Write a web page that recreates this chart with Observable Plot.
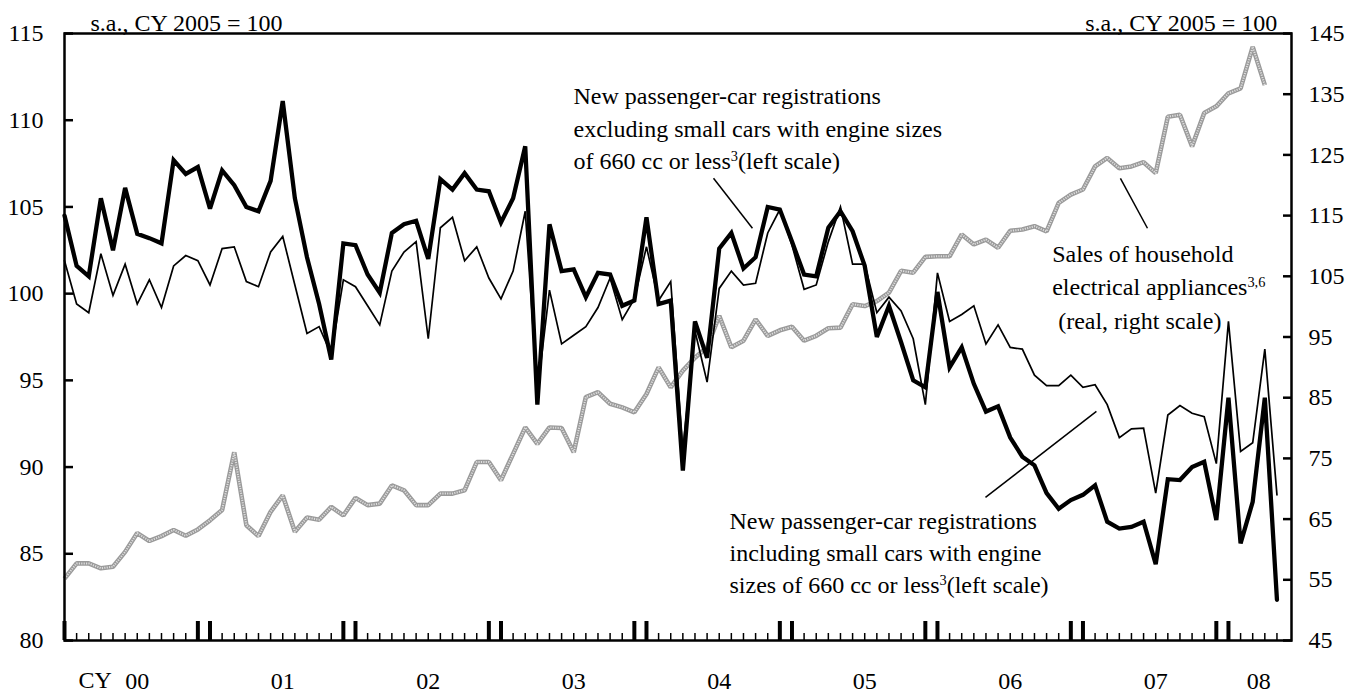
<!DOCTYPE html>
<html><head><meta charset="utf-8">
<script src="https://cdn.jsdelivr.net/npm/d3@7"></script>
<script src="https://cdn.jsdelivr.net/npm/@observablehq/plot@0.6"></script>
<style>
html,body{margin:0;padding:0;background:#fff;}
#chart{width:1358px;height:691px;}
</style>
</head><body><div id="chart"></div>
<script>
// Monthly data, Jan 2000 = index 0
const yearLabels = ["00","01","02","03","04","05","06","07","08"];
const leftTicks = [80, 85, 90, 95, 100, 105, 110, 115];
const rightTicks = [45, 55, 65, 75, 85, 95, 105, 115, 125, 135, 145];

// New passenger-car registrations excluding small cars (left scale)
const excludingSmall = [104.5,101.6,101.0,105.5,102.5,106.1,103.45,103.2,102.9,107.7,
 106.9,107.3,104.9,107.1,106.25,105.0,104.75,106.5,111.1,105.5,
 102.1,99.4,96.2,102.9,102.8,101.1,100.05,103.5,104.0,104.2,
 102.0,106.6,106.0,106.95,106.0,105.9,104.1,105.5,108.5,93.6,
 104.0,101.3,101.4,99.8,101.2,101.1,99.3,99.6,104.4,99.4,
 99.6,89.8,98.4,96.3,102.6,103.5,101.45,102.1,105.0,104.85,
 103.0,101.1,101.0,103.8,104.75,103.6,101.6,97.5,99.3,97.2,
 95.0,94.6,100.1,95.75,96.9,94.8,93.2,93.5,91.7,90.6,
 90.1,88.5,87.6,88.1,88.4,88.95,86.85,86.45,86.55,86.85,
 84.4,89.3,89.25,90.0,90.3,86.95,94.0,85.6,88.0,94.0,
 82.35];

// New passenger-car registrations including small cars (left scale)
const includingSmall = [101.9,99.4,98.9,102.3,99.9,101.7,99.4,100.8,99.2,101.6,
 102.2,101.9,100.5,102.6,102.7,100.7,100.4,102.4,103.3,100.5,
 97.7,98.1,96.5,100.8,100.4,99.3,98.2,101.3,102.4,103.0,
 97.4,103.8,104.4,101.9,102.7,100.9,99.7,101.3,104.75,94.3,
 100.2,97.1,97.6,98.1,99.2,100.9,98.5,99.7,102.7,99.6,
 100.7,91.0,97.85,94.9,100.3,101.3,100.5,100.6,103.5,104.85,
 102.8,100.25,100.5,103.0,105.0,101.7,101.7,98.9,99.8,99.0,
 97.4,93.6,101.2,98.4,98.8,99.3,97.1,98.2,96.9,96.8,
 95.3,94.7,94.7,95.3,94.6,94.75,93.6,91.7,92.2,92.25,
 88.5,93.0,93.55,93.1,92.9,90.2,98.4,90.9,91.4,96.8,
 88.4];

// Sales of household electrical appliances (real, right scale)
const appliances = [55.2,57.7,57.7,56.9,57.15,59.6,62.7,61.4,62.2,63.2,
 62.25,63.3,64.8,66.5,76.0,64.0,62.2,66.2,68.9,62.9,
 65.25,64.9,67.0,65.6,68.5,67.3,67.55,70.55,69.75,67.3,
 67.3,69.2,69.2,69.75,74.4,74.4,71.4,75.75,80.1,77.4,
 80.1,80.0,76.0,85.1,85.9,84.0,83.4,82.6,85.6,90.0,
 86.7,89.45,91.6,93.3,98.5,93.3,94.4,97.9,95.2,96.1,
 96.7,94.4,95.2,96.45,96.55,100.4,100.1,100.9,102.3,105.9,
 105.6,108.2,108.3,108.3,111.9,110.25,111.05,109.7,112.5,112.7,
 113.25,112.4,117.1,118.45,119.3,123.1,124.5,122.8,123.1,123.8,
 122.0,131.3,131.6,126.4,131.9,133.0,135.15,135.95,142.8,136.5];

const annExcluding = "New passenger-car registrations\nexcluding small cars with engine sizes\nof 660 cc or less{3}(left scale)";
const annIncluding = "New passenger-car registrations\nincluding small cars with engine\nsizes of 660 cc or less{3}(left scale)";
const annAppliances = "Sales of household\nelectrical appliances{3,6}\n\u00a0(real, right scale)";
const unitLabel = "s.a., CY 2005 = 100";

// right scale mapped onto the left scale
const toLeft = v => 80 + (v - 45) * 35 / 100;
const toRight = v => 45 + (v - 80) * 100 / 35;

const exc = excludingSmall.map((v, i) => ({i, v}));
const inc = includingSmall.map((v, i) => ({i, v}));
const app = appliances.map((v, i) => ({i, v: toLeft(v)}));

const nMonths = excludingSmall.length;
const monthIdx = d3.range(nMonths);
const yearEdgeIdx = monthIdx.filter(i => i % 12 === 0 || i % 12 === 11);
const yearPos = yearLabels.map((l, k) => {
  const first = 12 * k, last = Math.min(12 * k + 11, nMonths - 1);
  return (first + last + 1) / 2;
});
const yearLabelAt = new Map(yearPos.map((p, k) => [p, yearLabels[k]]));

const font = "'Liberation Serif','Times New Roman',Times,serif";

const chart = Plot.plot({
  width: 1358, height: 691,
  marginTop: 33, marginBottom: 51, marginLeft: 64, marginRight: 67,
  style: {fontFamily: font, fontSize: "24px", color: "#000", background: "#fff", overflow: "visible"},
  x: {domain: [0, 101.2], axis: null},
  y: {domain: [80, 115], axis: null},
  marks: [
    Plot.line(app, {x: "i", y: "v", stroke: "#9a9a9a", strokeWidth: 4.6, strokeLinejoin: "miter", strokeLinecap: "butt"}),
    Plot.line(app, {x: "i", y: "v", stroke: "#dedede", strokeWidth: 2, strokeDasharray: "1.2 1.2", strokeLinecap: "butt"}),
    Plot.line(inc, {x: "i", y: "v", stroke: "#000", strokeWidth: 1.7, strokeLinejoin: "miter", strokeMiterlimit: 4}),
    Plot.line(exc, {x: "i", y: "v", stroke: "#000", strokeWidth: 4.3, strokeLinejoin: "miter", strokeMiterlimit: 3}),
    Plot.frame({stroke: "#000", strokeWidth: 2.5}),
    Plot.axisY({anchor: "left", ticks: leftTicks, tickSize: -9, strokeWidth: 2.5, tickFormat: () => "", label: null}),
    Plot.axisY({anchor: "left", ticks: leftTicks, tickSize: 0, tickPadding: 21, fontSize: 24, label: null}),
    Plot.axisY({anchor: "right", ticks: rightTicks.map(toLeft), tickSize: -9, strokeWidth: 2.5, tickFormat: () => "", label: null}),
    Plot.axisY({anchor: "right", ticks: rightTicks.map(toLeft), tickSize: 0, tickPadding: 17, fontSize: 24,
      tickFormat: d => String(Math.round(toRight(d))), label: null}),
    Plot.axisX({ticks: monthIdx, tickSize: -7, strokeWidth: 1.5, tickFormat: () => "", label: null}),
    Plot.axisX({ticks: yearEdgeIdx, tickSize: -19, strokeWidth: 4, tickFormat: () => "", label: null}),
    Plot.axisX({ticks: yearPos, tickSize: 0, tickPadding: 31, fontSize: 24, tickFormat: d => yearLabelAt.get(d), label: null}),
    Plot.text(["CY"], {text: d => d, frameAnchor: "bottom-left", dx: 14, dy: 40.3, textAnchor: "start", lineAnchor: "middle", fontSize: 24}),
    Plot.text([unitLabel], {text: d => d, frameAnchor: "top-left", dx: 26, dy: -10, textAnchor: "start", lineAnchor: "middle", fontSize: 24}),
    Plot.text([unitLabel], {text: d => d, frameAnchor: "top-right", dx: -14.3, dy: -10, textAnchor: "end", lineAnchor: "middle", fontSize: 24}),
    Plot.text([annExcluding], {text: d => d, x: 41.98, y: 112.23, textAnchor: "start", lineAnchor: "top", lineHeight: 1.34, fontSize: 24}),
    Plot.text([annAppliances], {text: d => d, x: 81.46, y: 103.19, textAnchor: "start", lineAnchor: "top", lineHeight: 1.39, fontSize: 24}),
    Plot.text([annIncluding], {text: d => d, x: 54.85, y: 87.75, textAnchor: "start", lineAnchor: "top", lineHeight: 1.34, fontSize: 24}),
    Plot.link([0], {x1: 53.53, y1: 106.65, x2: 56.74, y2: 103.77, stroke: "#000", strokeWidth: 1.5}),
    Plot.link([0], {x1: 87.09, y1: 106.65, x2: 89.32, y2: 103.77, stroke: "#000", strokeWidth: 1.5}),
    Plot.link([0], {x1: 85.11, y1: 93.21, x2: 75.96, y2: 88.25, stroke: "#000", strokeWidth: 1.5})
  ]
});

// superscript footnote markers written as {n}
d3.select(chart).selectAll("text, tspan").each(function() {
  if (this.children.length) return;
  const t = this.textContent;
  if (!t.includes("{")) return;
  const parts = t.split(/(\{[^}]*\})/);
  this.textContent = "";
  for (const p of parts) {
    if (!p) continue;
    const s = d3.select(this).append("tspan");
    if (p.startsWith("{")) s.text(p.slice(1, -1)).attr("font-size", "60%").attr("baseline-shift", "super");
    else s.text(p);
  }
});

document.getElementById("chart").appendChild(chart);
</script>
</body></html>
